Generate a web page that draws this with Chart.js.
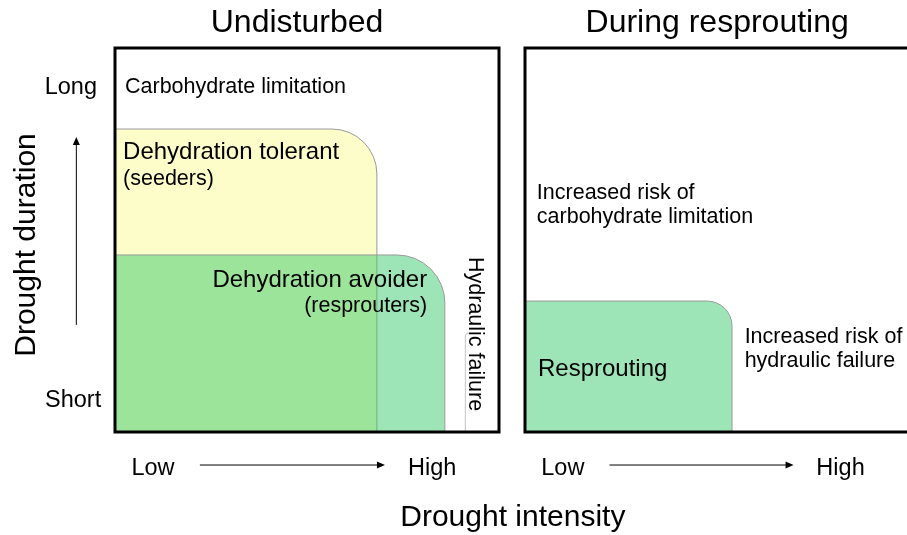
<!DOCTYPE html>
<html>
<head>
<meta charset="utf-8">
<script src="https://cdn.jsdelivr.net/npm/chart.js@4/dist/chart.umd.min.js"></script>
<style>
  html, body { margin: 0; padding: 0; background: #fff; overflow: hidden; }
  #wrap { position: relative; width: 907px; height: 535px; }
  #wrap canvas { position: absolute; left: 0; top: 0; }
</style>
</head>
<body>
<div id="wrap">
  <canvas id="leftChart" width="907" height="535"></canvas>
  <canvas id="rightChart" width="907" height="535"></canvas>
</div>
<script>
// --- Data (units: 0-10 on each axis) ---
const panelTitles = ['Undisturbed', 'During resprouting'];
const durationLabels = ['Short', 'Long'];
const intensityLabels = ['Low', 'High'];

// Undisturbed panel zones: extent along intensity (x) and duration (y)
const leftZones = ['Dehydration tolerant', 'Dehydration avoider'];
const leftZoneIntensity = [6.82, 8.59];
const leftZoneDuration = [7.89, 4.61];

// Hydraulic failure boundary
const hydraulicIntensity = [9.11];
const hydraulicDuration = [2.58];

// During resprouting panel
const rightZones = ['Resprouting'];
const rightZoneIntensity = [5.42];
const rightZoneDuration = [3.41];

// --- Styles ---
const FONT = '"Liberation Sans", Arial, sans-serif';
const zoneColors = ['#fdfdc9', 'rgba(51, 201, 103, 0.48)'];
const zoneRadius = [45, 48];

// --- Helpers ---
function px(chart, x, y) {
    return [chart.scales.x.getPixelForValue(x), chart.scales.y.getPixelForValue(y)];
}

function text(ctx, str, x, y, size, align, rot) {
    ctx.save();
    ctx.font = size + 'px ' + FONT;
    ctx.fillStyle = '#000';
    ctx.textAlign = align || 'left';
    ctx.textBaseline = 'middle';
    ctx.translate(x, y);
    if (rot) ctx.rotate(rot);
    ctx.fillText(str, 0, 0);
    ctx.restore();
}

function arrow(ctx, x1, y1, x2, y2) {
    const ang = Math.atan2(y2 - y1, x2 - x1);
    ctx.save();
    ctx.strokeStyle = '#000';
    ctx.fillStyle = '#000';
    ctx.lineWidth = 1;
    ctx.beginPath();
    ctx.moveTo(x1, y1);
    ctx.lineTo(x2 - 6 * Math.cos(ang), y2 - 6 * Math.sin(ang));
    ctx.stroke();
    ctx.translate(x2, y2);
    ctx.rotate(ang);
    ctx.beginPath();
    ctx.moveTo(0, 0);
    ctx.lineTo(-8, -3.5);
    ctx.lineTo(-8, 3.5);
    ctx.closePath();
    ctx.fill();
    ctx.restore();
}

// rectangle from origin with rounded top-right corner
function zone(ctx, chart, xMax, yMax, r, fill) {
    const [x0, y0] = px(chart, 0, 0);
    const [x1, y1] = px(chart, xMax, yMax);
    ctx.save();
    ctx.beginPath();
    ctx.moveTo(x0, y0);
    ctx.lineTo(x0, y1);
    ctx.lineTo(x1 - r, y1);
    ctx.arcTo(x1, y1, x1, y1 + r, r);
    ctx.lineTo(x1, y0);
    ctx.closePath();
    ctx.fillStyle = fill;
    ctx.fill();
    ctx.strokeStyle = '#9a9a9a';
    ctx.lineWidth = 1;
    ctx.stroke();
    ctx.restore();
}

function frame(ctx, chart, closed) {
    const a = chart.chartArea;
    ctx.save();
    ctx.strokeStyle = '#000';
    ctx.lineWidth = 3;
    ctx.beginPath();
    if (closed) {
        ctx.rect(a.left, a.top, a.right - a.left, a.bottom - a.top);
    } else {
        ctx.moveTo(chart.width + 5, a.top);
        ctx.lineTo(a.left, a.top);
        ctx.lineTo(a.left, a.bottom);
        ctx.lineTo(chart.width + 5, a.bottom);
    }
    ctx.stroke();
    ctx.restore();
}

function bottomAxis(ctx, chart) {
    const yText = px(chart, 0, -0.94)[1];
    const yArrow = px(chart, 0, -0.86)[1];
    text(ctx, intensityLabels[0], px(chart, 0.99, 0)[0], yText, 23.5, 'center');
    text(ctx, intensityLabels[1], px(chart, 8.26, 0)[0], yText, 23.5, 'center');
    arrow(ctx, px(chart, 2.21, 0)[0], yArrow, px(chart, 7.03, 0)[0], yArrow);
}

// --- Plugins ---
const leftPlugin = {
    id: 'leftPanel',
    afterDatasetsDraw(chart) {
        const ctx = chart.ctx;
        leftZones.forEach((z, i) => {
            zone(ctx, chart, leftZoneIntensity[i], leftZoneDuration[i], zoneRadius[i], zoneColors[i]);
        });

        // hydraulic failure boundary
        const [hx, hy] = px(chart, hydraulicIntensity[0], hydraulicDuration[0]);
        const hb = px(chart, 0, 0)[1];
        ctx.save();
        ctx.strokeStyle = '#c4c4c4';
        ctx.lineWidth = 1;
        ctx.beginPath();
        ctx.moveTo(hx + 0.5, hb);
        ctx.lineTo(hx + 0.5, hy + 3);
        ctx.quadraticCurveTo(hx + 0.5, hy, hx + 4, hy);
        ctx.stroke();
        ctx.restore();

        frame(ctx, chart, true);

        let p = px(chart, 4.74, 10.65);
        text(ctx, panelTitles[0], p[0], p[1], 32, 'center');

        p = px(chart, -1.15, 8.98);
        text(ctx, durationLabels[1], p[0], p[1], 23.5, 'center');
        p = px(chart, -1.09, 0.81);
        text(ctx, durationLabels[0], p[0], p[1], 23.5, 'center');
        const a1 = px(chart, -1.02, 2.79), a2 = px(chart, -1.02, 7.68);
        arrow(ctx, a1[0] + 0.5, a1[1], a2[0] + 0.5, a2[1]);

        p = px(chart, -2.29, 4.87);
        text(ctx, 'Drought duration', p[0], p[1], 30, 'center', -Math.PI / 2);
        p = px(chart, 10.36, -2.24);
        text(ctx, 'Drought intensity', p[0], p[1], 30, 'center');

        p = px(chart, 0.26, 8.98);
        text(ctx, 'Carbohydrate limitation', p[0], p[1], 21.5);
        p = px(chart, 0.21, 7.29);
        text(ctx, leftZones[0], p[0], p[1], 24);
        p = px(chart, 0.21, 6.59);
        text(ctx, '(seeders)', p[0], p[1], 21.5);
        p = px(chart, 8.13, 3.96);
        text(ctx, leftZones[1], p[0], p[1], 24, 'right');
        p = px(chart, 8.13, 3.28);
        text(ctx, '(resprouters)', p[0], p[1], 21.5, 'right');
        p = px(chart, 9.38, 2.55);
        text(ctx, 'Hydraulic failure', p[0], p[1], 21.5, 'center', Math.PI / 2);

        bottomAxis(ctx, chart);
    }
};

const rightPlugin = {
    id: 'rightPanel',
    afterDatasetsDraw(chart) {
        const ctx = chart.ctx;
        rightZones.forEach((z, i) => {
            zone(ctx, chart, rightZoneIntensity[i], rightZoneDuration[i], 25, zoneColors[1]);
        });
        frame(ctx, chart, false);

        let p = px(chart, 5.03, 10.65);
        text(ctx, panelTitles[1], p[0], p[1], 32, 'center');

        p = px(chart, 0.31, 6.22);
        text(ctx, 'Increased risk of', p[0], p[1], 21.5);
        p = px(chart, 0.31, 5.6);
        text(ctx, 'carbohydrate limitation', p[0], p[1], 21.5);
        p = px(chart, 5.75, 2.47);
        text(ctx, 'Increased risk of', p[0], p[1], 21.5);
        p = px(chart, 5.75, 1.85);
        text(ctx, 'hydraulic failure', p[0], p[1], 21.5);
        p = px(chart, 0.34, 1.64);
        text(ctx, rightZones[0], p[0], p[1], 24);

        bottomAxis(ctx, chart);
    }
};

function makeChart(id, zones, xs, ys, padding, plugin) {
    return new Chart(document.getElementById(id), {
        type: 'scatter',
        data: {
            datasets: zones.map((z, i) => ({
                label: z,
                data: [{ x: xs[i], y: ys[i] }],
                pointRadius: 0
            }))
        },
        options: {
            responsive: false,
            animation: false,
            layout: { padding: padding },
            plugins: { legend: { display: false }, tooltip: { enabled: false } },
            scales: {
                x: { type: 'linear', min: 0, max: 10, display: false },
                y: { type: 'linear', min: 0, max: 10, display: false }
            }
        },
        plugins: [plugin]
    });
}

makeChart('leftChart', leftZones, leftZoneIntensity, leftZoneDuration,
    { left: 115, right: 408, top: 48, bottom: 103 }, leftPlugin);
makeChart('rightChart', rightZones, rightZoneIntensity, rightZoneDuration,
    { left: 525, right: -2, top: 48, bottom: 103 }, rightPlugin);
</script>
</body>
</html>
